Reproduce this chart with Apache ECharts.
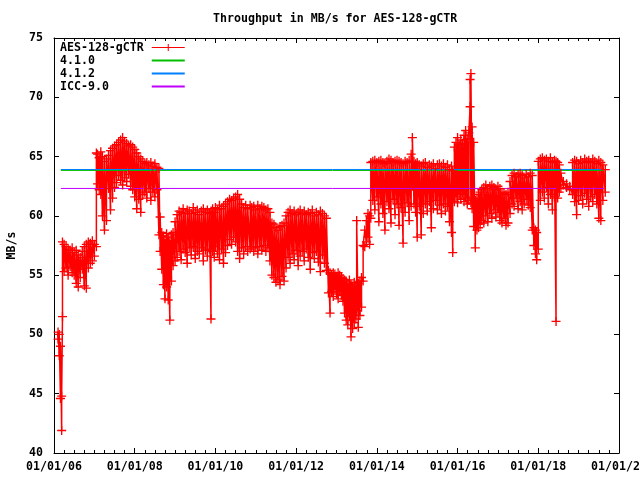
<!DOCTYPE html>
<html>
<head>
<meta charset="utf-8">
<script src="https://cdn.jsdelivr.net/npm/echarts@6/dist/echarts.min.js"></script>
<style>html,body{margin:0;padding:0;background:#fff}#c{width:640px;height:480px}</style>
</head>
<body>
<div id="c"></div>
<script>
var titleText = 'Throughput in MB/s for AES-128-gCTR';
var seriesNames = ['AES-128-gCTR', '4.1.0', '4.1.2', 'ICC-9.0'];
var yName = 'MB/s';
// x range (years) and tick years
var xMin = 2006, xMax = 2020, xStep = 2;
var yMin = 40, yMax = 75, yStep = 5;
// AES-128-gCTR samples: [year, low, high]
var aesData = [
[2006.10,49.6,50.2],[2006.13,48.2,50.0],[2006.16,44.6,49.0],[2006.19,41.9,44.8],[2006.21,51.5,57.8],
[2006.25,55.3,57.6],[2006.30,55.6,57.4],[2006.35,55.0,57.2],[2006.40,55.7,57.1],[2006.45,55.2,57.3],
[2006.50,55.0,56.9],[2006.55,54.3,57.1],[2006.60,54.0,56.7],[2006.65,54.8,56.5],[2006.70,55.5,57.0],
[2006.75,54.1,57.4],[2006.80,53.9,57.6],[2006.85,55.6,57.8],[2006.90,56.0,57.7],[2006.95,56.2,57.9],
[2007.00,56.6,57.6],[2007.05,57.4,65.3],
[2007.08,62.7,65.2],[2007.12,62.2,64.9],[2007.16,61.8,65.4],[2007.20,60.0,65.0],[2007.25,58.8,64.6],
[2007.30,59.6,64.8],[2007.35,62.3,65.1],[2007.40,60.5,65.5],[2007.45,61.5,65.7],[2007.50,62.4,65.9],
[2007.55,62.8,66.0],[2007.60,63.4,66.2],[2007.65,63.0,66.4],[2007.70,62.6,66.6],[2007.75,63.2,66.3],
[2007.80,62.9,66.1],[2007.85,63.5,65.9],[2007.90,62.5,66.0],[2007.95,62.2,65.8],[2008.00,61.6,65.6],
[2008.05,60.6,65.3],[2008.10,61.4,65.0],[2008.15,60.3,64.8],[2008.20,61.8,64.6],[2008.25,62.0,64.4],
[2008.30,61.5,64.5],[2008.35,62.3,64.3],[2008.40,61.3,64.5],[2008.45,62.0,64.2],[2008.50,61.6,64.4],
[2008.55,62.2,64.1],[2008.60,58.4,64.0],
[2008.63,57.0,59.9],[2008.67,55.5,58.6],[2008.71,54.2,58.3],[2008.75,53.0,58.0],[2008.79,54.0,58.5],
[2008.83,52.9,58.2],[2008.87,51.2,57.9],[2008.91,54.5,58.4],[2008.95,55.8,58.6],[2009.00,56.2,59.5],
[2009.05,56.5,60.1],[2009.10,57.0,60.4],[2009.15,56.3,60.3],[2009.20,57.2,60.6],[2009.25,56.9,60.2],
[2009.30,56.0,60.5],[2009.35,57.3,60.4],[2009.40,56.7,60.2],[2009.45,57.4,60.7],[2009.50,56.4,60.3],
[2009.55,57.0,60.5],[2009.60,56.8,60.1],[2009.65,57.3,60.4],[2009.70,56.2,60.6],[2009.75,57.1,60.3],
[2009.80,56.6,60.5],[2009.85,57.2,60.2],[2009.89,51.3,60.4],[2009.93,57.0,60.6],[2009.97,56.5,60.3],
[2010.00,57.4,60.7],[2010.05,56.8,60.5],[2010.10,56.3,60.9],[2010.15,57.2,60.6],[2010.20,56.0,60.8],
[2010.25,56.9,61.0],[2010.30,57.5,61.2],[2010.35,58.0,61.4],[2010.40,57.6,61.3],[2010.45,58.2,61.5],
[2010.50,57.8,61.6],[2010.55,57.0,61.8],[2010.60,56.4,61.4],[2010.65,57.3,61.0],[2010.70,56.8,60.7],
[2010.75,57.4,60.9],[2010.80,57.0,60.6],[2010.86,57.2,60.9],[2010.90,57.4,60.7],[2010.95,57.0,60.8],
[2011.00,57.3,60.5],[2011.05,56.8,60.9],[2011.10,57.4,60.6],[2011.15,57.1,60.8],[2011.20,57.5,60.7],
[2011.25,57.0,60.5],[2011.30,57.3,60.6],[2011.35,56.2,60.3],[2011.40,55.0,59.4],[2011.45,54.8,59.3],
[2011.50,54.4,59.0],[2011.55,54.6,58.8],[2011.60,54.2,59.1],[2011.65,54.9,59.2],[2011.70,54.5,59.4],
[2011.75,55.6,60.0],[2011.80,56.5,60.3],[2011.85,56.0,60.5],[2011.90,56.8,60.2],[2011.95,56.3,60.4],
[2012.00,57.1,60.1],[2012.05,55.8,60.3],[2012.10,56.6,60.5],[2012.15,57.0,60.2],[2012.20,56.2,60.4],
[2012.25,57.2,60.1],[2012.30,56.5,60.3],[2012.35,55.5,60.2],[2012.40,56.9,60.5],[2012.45,56.4,60.0],
[2012.50,57.0,60.3],[2012.55,56.1,60.1],[2012.60,55.3,60.4],[2012.65,56.7,60.2],[2012.70,56.0,60.0],
[2012.75,55.4,59.8],
[2012.80,53.5,55.4],[2012.84,51.8,55.2],[2012.88,53.6,55.0],[2012.92,53.2,55.2],[2012.96,53.8,55.1],
[2013.00,53.4,54.9],[2013.04,53.0,55.2],[2013.08,53.6,55.0],[2013.12,53.3,54.8],[2013.16,52.8,54.7],
[2013.20,51.8,54.6],[2013.24,51.2,54.5],[2013.28,50.8,54.3],[2013.32,51.5,54.6],[2013.36,49.8,54.2],
[2013.40,50.5,54.0],[2013.44,51.0,54.4],[2013.48,51.3,54.1],[2013.50,52.0,59.6],[2013.54,50.6,54.3],
[2013.58,51.6,54.5],[2013.62,52.3,54.8],[2013.66,54.5,57.5],[2013.70,57.4,58.8],[2013.74,57.8,59.6],
[2013.78,58.2,60.2],[2013.82,57.6,60.0],[2013.85,59.8,64.5],
[2013.90,61.3,64.6],[2013.95,60.5,64.7],[2014.00,61.6,64.5],[2014.05,59.5,64.6],[2014.10,61.0,64.7],
[2014.15,60.2,64.5],[2014.20,58.8,64.4],[2014.25,61.2,64.6],[2014.30,60.6,64.8],[2014.35,59.4,64.7],
[2014.40,61.4,64.5],[2014.45,60.1,64.6],[2014.50,61.0,64.7],[2014.55,59.2,64.6],[2014.60,60.7,64.5],
[2014.65,57.7,64.4],[2014.70,60.3,64.6],[2014.75,61.1,64.5],[2014.80,59.6,64.7],[2014.85,60.8,65.2],
[2014.88,62.5,66.6],[2014.92,61.0,64.6],[2014.96,60.3,64.4],[2015.00,58.2,64.5],[2015.05,60.8,64.3],
[2015.10,58.4,64.2],[2015.15,60.2,64.4],[2015.20,61.0,64.5],[2015.25,60.4,64.1],[2015.30,61.2,64.3],
[2015.35,59.0,64.2],[2015.40,60.6,64.4],[2015.45,61.3,64.0],[2015.50,60.5,64.3],[2015.55,60.9,64.4],
[2015.60,60.2,64.2],[2015.65,61.0,64.4],[2015.70,60.4,64.1],[2015.75,60.8,64.3],[2015.80,59.5,63.9],
[2015.85,58.6,64.2],[2015.88,56.9,63.8],[2015.92,61.2,65.8],[2015.96,61.6,66.2],[2016.00,61.1,66.6],
[2016.04,61.8,66.0],[2016.08,61.4,66.4],[2016.12,61.9,66.1],[2016.16,61.2,66.8],[2016.20,61.5,67.2],
[2016.24,61.0,66.5],[2016.28,61.3,67.0],[2016.31,69.2,71.5],[2016.33,61.1,72.0],[2016.36,60.6,67.5],
[2016.40,59.1,66.2],[2016.44,57.3,61.3],[2016.48,58.8,61.5],[2016.52,59.0,61.8],[2016.56,59.3,62.0],
[2016.60,59.6,62.2],[2016.65,59.4,62.4],[2016.70,60.0,62.6],[2016.75,59.5,62.3],[2016.80,60.2,62.5],
[2016.85,59.8,62.6],[2016.90,60.5,62.4],[2016.95,59.9,62.2],[2017.00,60.3,62.5],[2017.05,59.6,62.3],
[2017.10,59.4,62.0],[2017.15,59.8,61.9],[2017.20,59.2,61.8],[2017.25,59.4,62.0],[2017.30,60.2,62.9],
[2017.35,61.0,63.4],[2017.40,60.8,63.6],[2017.45,61.5,63.3],[2017.50,60.6,63.5],[2017.55,61.2,63.6],
[2017.60,60.5,63.4],[2017.65,61.0,63.2],[2017.70,61.4,63.5],[2017.75,60.9,63.3],[2017.80,60.7,63.6],
[2017.85,58.8,63.4],[2017.89,57.5,59.0],[2017.93,56.8,58.8],[2017.96,56.3,58.6],[2018.00,57.2,64.6],
[2018.05,61.3,64.8],[2018.10,62.0,64.9],[2018.15,61.5,64.7],[2018.20,62.4,64.8],[2018.25,61.0,64.6],
[2018.30,61.8,64.9],[2018.35,60.5,64.5],[2018.40,61.6,64.7],[2018.44,51.1,64.6],[2018.48,61.5,64.5],
[2018.52,62.0,64.3],[2018.56,62.3,63.6],[2018.62,62.6,62.9],[2018.70,62.4,62.7],[2018.78,62.2,62.5],
[2018.85,61.8,64.5],[2018.90,61.2,64.7],[2018.95,60.1,64.6],[2019.00,61.3,64.4],[2019.05,61.7,64.7],
[2019.10,61.0,64.5],[2019.15,61.9,64.8],[2019.20,61.4,64.6],[2019.25,60.8,64.7],[2019.30,61.6,64.5],
[2019.35,61.2,64.8],[2019.40,61.8,64.6],[2019.45,61.0,64.4],[2019.50,59.8,64.7],[2019.55,59.6,64.5],
[2019.60,61.3,64.3],[2019.66,62.0,63.9]
];
// Reference lines: start/end year and level
var refSpan = [2006.17, 2019.63];
var v410 = 63.83;
var v412 = 63.91;
var icc90 = 62.31;
var colors = ['#ff0000', '#00c000', '#0080ff', '#c000ff'];

var FONT = 'DejaVu Sans Mono';
var FS = 11.6;

var aesSeries = [];
aesData.forEach(function (d) {
  aesSeries.push([d[0], d[1]]);
  aesSeries.push([d[0], d[2]]);
});
function flat(v) { return [[refSpan[0], v], [refSpan[1], v]]; }

var plus = 'path://M4,0h1.4v9.4h-1.4zM0,4h9.4v1.4h-9.4z';
var axisCommon = {
  axisLine: { show: true, onZero: false, lineStyle: { color: '#000', width: 1 } },
  splitLine: { show: false },
  axisTick: { show: true, inside: true, length: 5, lineStyle: { color: '#000' } }
};
function xAx(pos, labels) {
  return Object.assign({}, axisCommon, {
    type: 'value', position: pos, min: xMin, max: xMax, interval: xStep,
    minorTick: { show: true, splitNumber: 8, length: 3, lineStyle: { color: '#000' } },
    axisLabel: { show: labels, margin: 8, color: '#000', fontFamily: FONT, fontSize: FS, fontWeight: 'bold',
      alignMinLabel: 'center', alignMaxLabel: 'center',
      formatter: function (v) { return '01/01/' + String(v).slice(2); } }
  });
}
function yAx(pos, labels) {
  return Object.assign({}, axisCommon, {
    type: 'value', position: pos, min: yMin, max: yMax, interval: yStep,
    name: labels ? yName : '', nameLocation: 'middle', nameGap: 34, nameRotate: 90,
    nameTextStyle: { color: '#000', fontFamily: FONT, fontSize: FS, fontWeight: 'bold' },
    axisLabel: { show: labels, margin: 11, color: '#000', fontFamily: FONT, fontSize: FS, fontWeight: 'bold' }
  });
}

var chart = echarts.init(document.getElementById('c'), null, { renderer: 'canvas' });
chart.setOption({
  animation: false,
  backgroundColor: '#fff',
  title: { text: titleText, left: 213, top: 13, padding: 0,
    textStyle: { color: '#000', fontFamily: FONT, fontSize: FS, fontWeight: 'bold' } },
  legend: {
    orient: 'vertical', left: 60, top: 41, align: 'right', padding: 0,
    itemWidth: 33, itemHeight: 9, itemGap: 0,
    formatter: function (n) { return n + new Array(13 - n.length).join(' '); },
    textStyle: { color: '#000', fontFamily: FONT, fontSize: FS, fontWeight: 'bold', lineHeight: 13, padding: [0, 3, 0, 0] },
    data: [
      { name: seriesNames[0], lineStyle: { width: 1 } },
      { name: seriesNames[1], itemStyle: { opacity: 0 } },
      { name: seriesNames[2], itemStyle: { opacity: 0 } },
      { name: seriesNames[3], itemStyle: { opacity: 0 } }
    ]
  },
  grid: { left: 54, right: 21, top: 38, bottom: 27, containLabel: false, outerBoundsMode: 'none' },
  xAxis: [xAx('bottom', true), xAx('top', false)],
  yAxis: [yAx('left', true), yAx('right', false)],
  series: [
    { name: seriesNames[0], type: 'line', data: aesSeries, color: colors[0],
      symbol: plus, symbolSize: 9, showAllSymbol: true, clip: true,
      lineStyle: { width: 1.5, color: colors[0] }, itemStyle: { color: colors[0] } },
    { name: seriesNames[1], type: 'line', data: flat(v410), color: colors[1], symbol: 'none',
      lineStyle: { width: 1, color: colors[1] } },
    { name: seriesNames[2], type: 'line', data: flat(v412), color: colors[2], symbol: 'none',
      lineStyle: { width: 1, color: colors[2] } },
    { name: seriesNames[3], type: 'line', data: flat(icc90), color: colors[3], symbol: 'none',
      lineStyle: { width: 1, color: colors[3] } }
  ]
});
</script>
</body>
</html>
